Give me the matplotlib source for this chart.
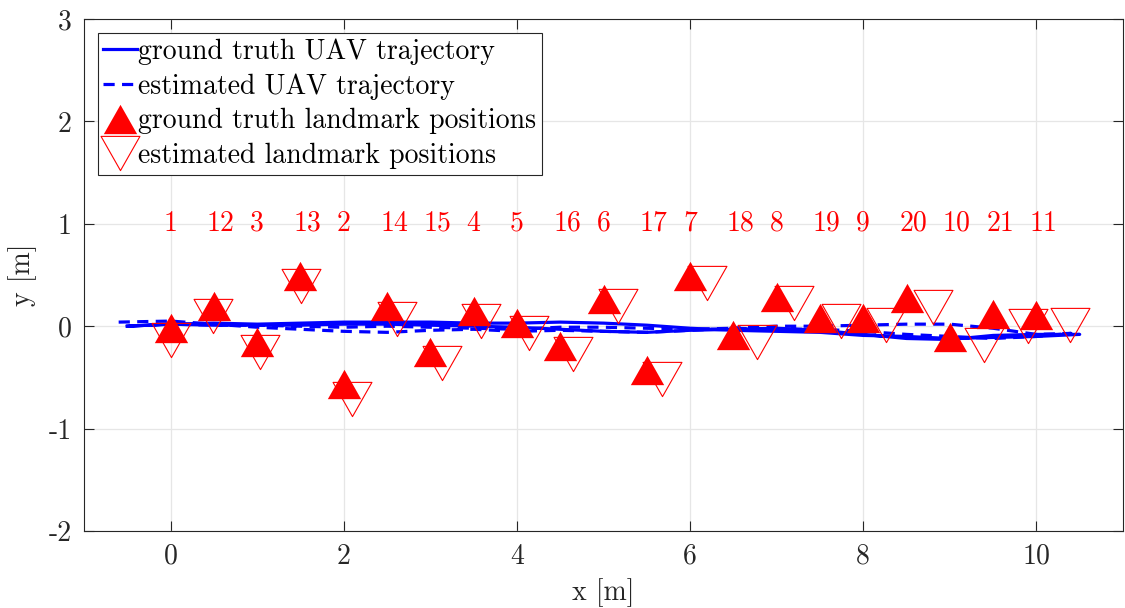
import numpy as np
import matplotlib
matplotlib.use("Agg")
import matplotlib.pyplot as plt
from matplotlib.path import Path

plt.rcParams['font.family'] = 'serif'
plt.rcParams['font.serif'] = ['cmr10']
plt.rcParams['axes.unicode_minus'] = False
plt.rcParams['mathtext.fontset'] = 'cm'

# ---------------- data ----------------
# ground truth UAV trajectory (out and back)
gt_traj_x = [-0.5, 0.0, 0.5, 1.0, 1.5, 2.0, 2.5, 3.0, 3.5, 4.0, 4.5, 5.0, 5.5, 6.0, 6.5, 7.0, 7.5, 8.0, 8.5, 9.0, 9.5, 10.0, 10.5,
             10.0, 9.5, 9.0, 8.5, 8.0, 7.5, 7.0, 6.5, 6.0, 5.5, 5.0, 4.5, 4.0, 3.5, 3.0, 2.5, 2.0, 1.5, 1.0, 0.5, 0.0, -0.5]
gt_traj_y = [0.00, 0.02, 0.03, 0.02, 0.03, 0.04, 0.04, 0.04, 0.03, 0.03, 0.04, 0.03, 0.01, -0.02, -0.04, -0.05, -0.06, -0.09, -0.10, -0.12, -0.11, -0.10, -0.08,
             -0.08, -0.09, -0.13, -0.12, -0.08, -0.04, -0.02, -0.03, -0.04, -0.06, -0.05, -0.03, -0.01, 0.00, 0.01, 0.02, 0.02, 0.01, 0.01, 0.01, 0.02, 0.00]

# estimated UAV trajectory
est_traj_x = [-0.6, 0.0, 0.5, 1.0, 1.5, 2.0, 2.5, 3.0, 3.5, 4.0, 4.5, 5.0, 5.5, 6.0, 6.5, 7.0, 7.5, 8.0, 8.5, 9.0, 9.5, 10.0, 10.4,
              10.0, 9.5, 9.0, 8.5, 8.0, 7.5, 7.0, 6.5, 6.0, 5.5, 5.0, 4.5, 4.0, 3.5, 3.0, 2.5, 2.0, 1.5, 1.0, 0.5, 0.0]
est_traj_y = [0.04, 0.05, 0.02, -0.01, -0.03, -0.05, -0.06, -0.04, -0.03, -0.05, -0.04, -0.05, -0.06, -0.04, -0.02, 0.00, 0.00, 0.01, 0.02, 0.02, -0.02, -0.08, -0.07,
              -0.10, -0.12, -0.10, -0.08, -0.05, -0.03, -0.03, -0.02, -0.03, -0.02, -0.01, -0.01, -0.03, -0.02, -0.01, 0.00, -0.01, 0.00, 0.01, 0.01, 0.02]

# landmarks (ordered by x)
lm_labels = ['1', '12', '3', '13', '2', '14', '15', '4', '5', '16', '6', '17', '7', '18', '8', '19', '9', '20', '10', '21', '11']
gt_lm_x = [0.0, 0.5, 1.0, 1.5, 2.0, 2.5, 3.0, 3.5, 4.0, 4.5, 5.0, 5.5, 6.0, 6.5, 7.0, 7.5, 8.0, 8.5, 9.0, 9.5, 10.0]
gt_lm_y = [-0.02, 0.20, -0.15, 0.49, -0.56, 0.20, -0.25, 0.15, 0.03, -0.19, 0.27, -0.43, 0.49, -0.09, 0.29, 0.08, 0.08, 0.28, -0.11, 0.12, 0.11]
est_lm_x = [0.00, 0.49, 1.03, 1.51, 2.09, 2.62, 3.14, 3.58, 4.14, 4.65, 5.17, 5.68, 6.20, 6.77, 7.20, 7.74, 8.26, 8.81, 9.39, 9.90, 10.39]
est_lm_y = [-0.13, 0.10, -0.25, 0.39, -0.71, 0.07, -0.36, 0.05, -0.07, -0.27, 0.20, -0.52, 0.42, -0.15, 0.23, 0.05, 0.01, 0.19, -0.18, 0.00, 0.01]

x_ticks = [0, 2, 4, 6, 8, 10]
y_ticks = [-2, -1, 0, 1, 2, 3]
label_y = 1.0

# ---------------- markers ----------------
h = 0.88
up_tri = Path([(0, h), (-1, -h), (1, -h), (0, h)], [Path.MOVETO, Path.LINETO, Path.LINETO, Path.CLOSEPOLY])
down_tri = Path([(0, -h), (-1, h), (1, h), (0, -h)], [Path.MOVETO, Path.LINETO, Path.LINETO, Path.CLOSEPOLY])

fs = 20
dark = '#262626'

fig = plt.figure(figsize=(11.25, 6.08), dpi=100)
ax = fig.add_axes([0.0747, 0.1266, 0.9235, 0.8422])

ax.plot(gt_traj_x, gt_traj_y, color='#0000ff', lw=2.3, label='ground truth UAV trajectory', zorder=3)
ax.plot(est_traj_x, est_traj_y, color='#0000ff', lw=2.3, linestyle=(0, (3.5, 2.3)),
        label='estimated UAV trajectory', zorder=3)
ax.plot(gt_lm_x, gt_lm_y, linestyle='none', marker=up_tri, markersize=24, color='#ff0000',
        markeredgewidth=0, label='ground truth landmark positions', zorder=4)
ax.plot(est_lm_x, est_lm_y, linestyle='none', marker=down_tri, markersize=28, markerfacecolor='none',
        markeredgecolor='#ff0000', markeredgewidth=0.8, label='estimated landmark positions', zorder=5)

for lx, lab in zip(gt_lm_x, lm_labels):
    ax.text(lx - 0.08, label_y, lab, color='#ff0000', fontsize=fs, ha='left', va='center', zorder=6)

ax.set_xlim(-1, 11)
ax.set_ylim(-2, 3)
ax.set_xticks(x_ticks)
ax.set_yticks(y_ticks)
ax.grid(True, color='#e6e6e6', linewidth=0.9, zorder=0)
ax.set_axisbelow(True)
ax.tick_params(direction='in', length=7.5, width=0.8, colors=dark, labelsize=fs,
               top=True, right=True, pad=9)
for sp in ax.spines.values():
    sp.set_color(dark)
    sp.set_linewidth(0.8)

ax.set_xlabel('x [m]', fontsize=fs, color=dark, labelpad=6)
ax.set_ylabel('y [m]', fontsize=fs, color=dark, labelpad=8)

leg = ax.legend(loc='upper left', fontsize=fs, frameon=True, fancybox=False, framealpha=1,
                edgecolor=dark, borderaxespad=0.5, handlelength=1.2, handletextpad=0.05,
                labelspacing=0.3, borderpad=0.2)
leg.get_frame().set_linewidth(0.8)

fig.savefig('out.png', dpi=100)
